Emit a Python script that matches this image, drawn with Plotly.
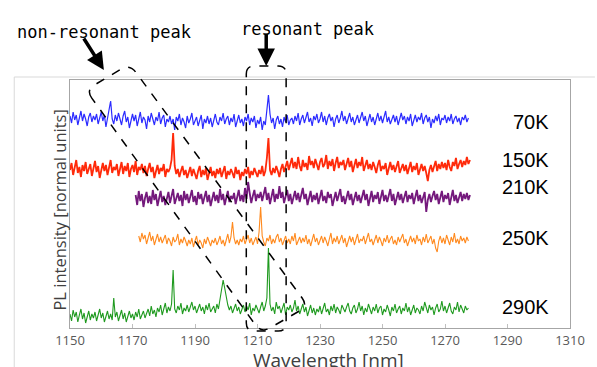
import plotly.graph_objects as go

# ---------------- data ----------------
temps = ["70K", "150K", "210K", "250K", "290K"]
start_nm = {"70K": 1150, "150K": 1150, "210K": 1171, "250K": 1172, "290K": 1150}
step_nm = 0.5

int_70K = [
    212, 205, 216, 208, 213, 203, 210, 217, 207, 214, 209, 202, 211, 215, 206, 212,
    208, 214, 204, 211, 216, 207, 213, 201, 210, 221, 227, 209, 204, 213, 207, 215,
    210, 203, 212, 217, 206, 211, 200, 209, 214, 207, 213, 202, 210, 216, 205, 211,
    208, 199, 212, 206, 215, 209, 203, 211, 207, 216, 204, 210, 213, 201, 209, 206,
    212, 204, 209, 198, 211, 207, 214, 203, 210, 206, 200, 212, 205, 209, 215, 203,
    208, 211, 202, 207, 213, 199, 209, 205, 212, 204, 210, 201, 208, 214, 206, 203,
    211, 207, 215, 204, 209, 212, 203, 210, 206, 214, 201, 208, 213, 205, 209, 202,
    211, 207, 214, 203, 210, 206, 212, 200, 208, 204, 211, 198, 207, 203, 221, 233,
    214, 205, 210, 199, 208, 212, 204, 209, 201, 211, 206, 213, 203, 208, 210, 204,
    212, 207, 215, 203, 209, 213, 205, 211, 216, 206, 210, 202, 212, 208, 214, 205,
    209, 216, 206, 212, 203, 210, 214, 207, 211, 201, 209, 213, 205, 210, 217, 207,
    212, 204, 209, 215, 206, 211, 203, 208, 213, 205, 210, 216, 207, 212, 202, 209,
    214, 206, 211, 203, 209, 215, 207, 212, 205, 210, 217, 206, 211, 204, 209, 213,
    206, 212, 203, 210, 215, 208, 212, 204, 211, 207, 214, 202, 209, 213, 206, 211,
    208, 215, 204, 210, 213, 206, 211, 200, 209, 205, 212, 207, 214, 203, 210, 208,
    213, 205, 211, 207, 214, 204, 209, 212, 206, 210, 203, 211, 208, 213, 206, 210,
]
int_150K = [
    158, 165, 153, 162, 168, 155, 161, 151, 163, 157, 166, 154, 160, 164, 152, 161,
    167, 156, 162, 150, 159, 165, 157, 163, 153, 160, 168, 155, 161, 158, 164, 152,
    160, 166, 154, 162, 157, 165, 151, 159, 163, 156, 167, 153, 161, 158, 164, 155,
    162, 152, 159, 165, 156, 161, 150, 158, 163, 154, 160, 157, 164, 151, 159, 156,
    160, 168, 195, 162, 154, 159, 151, 157, 162, 153, 158, 150, 156, 161, 152, 159,
    154, 149, 157, 162, 151, 158, 153, 160, 148, 156, 161, 152, 157, 150, 159, 154,
    160, 151, 156, 162, 149, 157, 153, 159, 155, 150, 161, 154, 158, 148, 156, 152,
    159, 154, 161, 150, 157, 153, 160, 155, 151, 158, 154, 162, 152, 157, 170, 190,
    158, 153, 160, 155, 162, 157, 151, 159, 164, 156, 161, 167, 158, 163, 170, 160,
    166, 159, 171, 162, 157, 168, 161, 165, 158, 172, 163, 167, 160, 169, 162, 158,
    166, 170, 161, 164, 173, 159, 167, 162, 169, 157, 165, 171, 160, 166, 163, 168,
    158, 165, 170, 161, 167, 156, 164, 169, 160, 166, 162, 171, 157, 163, 168, 159,
    164, 158, 166, 161, 155, 163, 168, 157, 162, 159, 165, 153, 161, 166, 158, 163,
    156, 162, 167, 155, 160, 164, 157, 163, 154, 161, 166, 156, 162, 158, 165, 153,
    160, 164, 157, 162, 155, 147, 158, 163, 156, 161, 167, 157, 164, 159, 166, 160,
    165, 158, 168, 161, 157, 166, 162, 170, 159, 164, 168, 161, 167, 163, 171, 164,
    168,
]
int_210K = [
    133, 123, 137, 127, 134, 121, 130, 136, 125, 132, 124, 138, 128, 134, 122, 131,
    137, 126, 132, 123, 129, 136, 125, 133, 139, 124, 130, 135, 127, 133, 122, 137,
    128, 134, 125, 131, 138, 126, 132, 123, 136, 129, 134, 124, 131, 137, 126, 133,
    122, 130, 136, 127, 133, 125, 139, 128, 134, 123, 131, 137, 126, 132, 129, 135,
    124, 131, 138, 127, 133, 126, 140, 129, 146, 135, 125, 132, 138, 127, 134, 130,
    136, 127, 133, 141, 128, 135, 124, 131, 139, 126, 134, 129, 142, 130, 136, 125,
    132, 138, 127, 134, 124, 131, 137, 128, 135, 126, 133, 140, 129, 134, 123, 131,
    137, 126, 133, 128, 135, 124, 131, 138, 127, 132, 125, 136, 130, 134, 122, 131,
    136, 127, 133, 139, 126, 132, 124, 130, 137, 128, 134, 123, 131, 136, 127, 133,
    125, 131, 138, 128, 134, 122, 130, 137, 126, 133, 129, 136, 124, 131, 138, 127,
    133, 126, 132, 139, 127, 134, 123, 131, 136, 128, 134, 125, 132, 137, 126, 133,
    129, 135, 124, 131, 138, 127, 133, 125, 130, 136, 116, 128, 134, 126, 132, 137,
    128, 134, 124, 131, 137, 126, 133, 129, 135, 123, 131, 138, 127, 133, 125, 132,
    136, 127, 134, 129, 135, 128, 133,
]
int_250K = [
    92, 86, 95, 89, 93, 84, 90, 96, 87, 92, 83, 89, 94, 86, 91, 85,
    89, 93, 84, 90, 87, 82, 91, 86, 88, 94, 83, 89, 85, 91, 87, 82,
    88, 84, 90, 81, 87, 92, 83, 88, 85, 80, 89, 84, 91, 86, 82, 88,
    85, 90, 83, 87, 92, 84, 88, 82, 89, 94, 85, 91, 106, 90, 84, 88,
    83, 89, 86, 92, 84, 88, 93, 85, 90, 83, 87, 91, 84, 96, 121, 92,
    86, 82, 90, 87, 93, 84, 89, 85, 91, 94, 86, 90, 83, 88, 92, 85,
    89, 84, 92, 87, 95, 83, 88, 91, 85, 90, 86, 93, 84, 89, 82, 88,
    94, 86, 90, 83, 88, 92, 85, 91, 87, 82, 89, 95, 84, 90, 86, 92,
    84, 89, 93, 85, 90, 81, 87, 92, 86, 91, 83, 88, 94, 85, 89, 87,
    92, 84, 90, 95, 86, 89, 83, 88, 93, 85, 91, 87, 82, 90, 86, 93,
    85, 89, 92, 84, 88, 83, 91, 86, 90, 94, 85, 89, 82, 88, 92, 86,
    90, 84, 93, 87, 89, 83, 91, 86, 94, 85, 88, 92, 84, 89, 80, 76,
    87, 92, 85, 90, 84, 93, 88, 83, 91, 86, 95, 85, 89, 84, 92, 87,
    90, 85, 91, 87,
]
int_290K = [
    14, 7, 18, 11, 16, 6, 13, 19, 9, 15, 5, 12, 17, 8, 14, 10,
    16, 7, 13, 19, 10, 15, 6, 12, 17, 9, 14, 8, 30, 11, 16, 7,
    13, 18, 9, 15, 6, 12, 17, 10, 14, 8, 16, 11, 19, 9, 13, 17,
    10, 15, 19, 12, 22, 14, 18, 11, 20, 16, 23, 13, 19, 25, 15, 21,
    17, 24, 58, 19, 15, 22, 18, 25, 14, 20, 17, 23, 16, 21, 26, 18,
    22, 15, 19, 24, 17, 21, 14, 23, 18, 25, 16, 20, 22, 15, 24, 19,
    28, 38, 48, 40, 30, 23, 18, 22, 15, 20, 24, 17, 21, 14, 19, 23,
    16, 22, 18, 25, 13, 20, 17, 23, 19, 15, 21, 26, 17, 22, 30, 80,
    24, 17, 21, 14, 26, 19, 22, 15, 20, 25, 13, 21, 18, 23, 16, 20,
    28, 17, 22, 14, 19, 24, 16, 21, 12, 18, 23, 15, 20, 13, 19, 16,
    22, 14, 20, 25, 16, 19, 13, 22, 17, 24, 15, 21, 18, 14, 23, 19,
    16, 21, 25, 17, 14, 20, 23, 15, 19, 26, 17, 22, 13, 20, 16, 24,
    18, 14, 21, 17, 24, 15, 20, 22, 13, 19, 16, 23, 18, 12, 21, 17,
    24, 15, 19, 22, 14, 20, 17, 25, 16, 21, 13, 19, 23, 15, 20, 18,
    14, 22, 17, 26, 19, 15, 23, 18, 21, 13, 20, 24, 16, 19, 27, 17,
    22, 15, 20, 25, 17, 14, 21, 18, 26, 16, 23, 19, 15, 22, 18, 20,
]
series = {"70K": int_70K, "150K": int_150K, "210K": int_210K,
          "250K": int_250K, "290K": int_290K}
x_ticks = [1150, 1170, 1190, 1210, 1230, 1250, 1270, 1290, 1310]

# ---------------- style ----------------
colors = {"70K": "#2b2bff", "150K": "#ff2a0a", "210K": "#74197c",
          "250K": "#ff8a1f", "290K": "#1f9a1f"}
widths = {"70K": 1.2, "150K": 1.8, "210K": 1.8, "250K": 1.1, "290K": 1.1}

W, H = 597, 367
L, R, T, B = 70, 572, 80, 328  # plot area in pixels


def px(x):
    return (x - L) / (R - L)


def py(y):
    return (B - y) / (B - T)


fig = go.Figure()
for t in temps:
    vals = series[t]
    xs = [start_nm[t] + step_nm * i for i in range(len(vals))]
    fig.add_trace(go.Scatter(x=xs, y=vals, mode="lines", name=t,
                             line=dict(color=colors[t], width=widths[t]),
                             showlegend=False))

label_y = {"70K": 122, "150K": 160, "210K": 187, "250K": 238, "290K": 307}
annotations = []
for t in temps:
    annotations.append(dict(x=px(553), y=py(label_y[t]), xref="paper", yref="paper",
                            text=t, showarrow=False, xanchor="right", yanchor="middle",
                            font=dict(size=20, color="black", family="Liberation Sans")))

# axis titles
annotations.append(dict(x=px(45), y=py(210), xref="paper", yref="paper",
                        text="PL intensity [normal units]", textangle=-90, showarrow=False,
                        font=dict(size=16.5, color="#404040", family="Open Sans")))
annotations.append(dict(x=px(330), y=py(345), xref="paper", yref="paper",
                        text="Wavelength [nm]", showarrow=False, yanchor="top",
                        font=dict(size=19, color="#404040", family="Open Sans")))

# top labels
annotations.append(dict(x=px(15), y=py(20), xref="paper", yref="paper",
                        text="non-resonant peak", showarrow=False, xanchor="left",
                        font=dict(size=17, color="black", family="DejaVu Sans Mono")))
annotations.append(dict(x=px(240), y=py(17), xref="paper", yref="paper",
                        text="resonant peak", showarrow=False, xanchor="left",
                        font=dict(size=17, color="black", family="DejaVu Sans Mono")))
# arrows
annotations.append(dict(x=px(104), y=py(70), xref="paper", yref="paper", text="",
                        showarrow=True, ax=-21, ay=-33, arrowhead=2, arrowsize=1,
                        arrowwidth=3.5, arrowcolor="black"))
annotations.append(dict(x=px(267), y=py(66), xref="paper", yref="paper", text="",
                        showarrow=True, ax=0, ay=-34, arrowhead=2, arrowsize=1,
                        arrowwidth=3.5, arrowcolor="black"))


def rounded_path(pts, r):
    import math
    n = len(pts)
    segs = []
    for i in range(n):
        p0 = pts[i - 1]
        p1 = pts[i]
        p2 = pts[(i + 1) % n]
        d1 = math.hypot(p0[0] - p1[0], p0[1] - p1[1])
        d2 = math.hypot(p2[0] - p1[0], p2[1] - p1[1])
        a = (p1[0] + (p0[0] - p1[0]) * r / d1, p1[1] + (p0[1] - p1[1]) * r / d1)
        b = (p1[0] + (p2[0] - p1[0]) * r / d2, p1[1] + (p2[1] - p1[1]) * r / d2)
        segs.append((a, p1, b))
    path = ""
    for i, (a, c, b) in enumerate(segs):
        cmd = "M" if i == 0 else "L"
        path += f"{cmd}{px(a[0]):.5f},{py(a[1]):.5f} "
        path += f"Q{px(c[0]):.5f},{py(c[1]):.5f} {px(b[0]):.5f},{py(b[1]):.5f} "
    path += "Z"
    return path


shapes = [
    # outer light frame
    dict(type="line", xref="paper", yref="paper", x0=px(14), x1=px(W), y0=py(77), y1=py(77),
         line=dict(color="#d9d9d9", width=1)),
    dict(type="line", xref="paper", yref="paper", x0=px(14), x1=px(14), y0=py(77), y1=py(H),
         line=dict(color="#d9d9d9", width=1)),
    # diagonal dashed box
    dict(type="path", xref="paper", yref="paper",
         path=rounded_path([(86, 90), (130, 64), (309, 306), (262, 333)], 10),
         line=dict(color="black", width=1.5, dash="dash")),
    # vertical dashed box
    dict(type="path", xref="paper", yref="paper",
         path=rounded_path([(247, 66), (287, 66), (287, 331), (247, 331)], 8),
         line=dict(color="black", width=1.5, dash="dash")),
]

fig.update_layout(
    width=W, height=H,
    margin=dict(l=L, r=W - R, t=T, b=H - B),
    paper_bgcolor="white", plot_bgcolor="white",
    annotations=annotations, shapes=shapes,
    xaxis=dict(range=[1150, 1310], tickvals=x_ticks, showgrid=False, zeroline=False,
               showline=True, mirror=True, linecolor="#a6a6a6", linewidth=1,
               ticks="inside", ticklen=4, tickcolor="#bfbfbf",
               tickfont=dict(size=13, color="#595959", family="Open Sans")),
    yaxis=dict(range=[0, 248], showticklabels=False, showgrid=False, zeroline=False,
               showline=True, mirror=True, linecolor="#a6a6a6", linewidth=1, ticks=""),
)

fig.write_html("out.html", config={"displayModeBar": False},
               post_script="document.body.style.margin='0';document.body.style.overflow='hidden';")
